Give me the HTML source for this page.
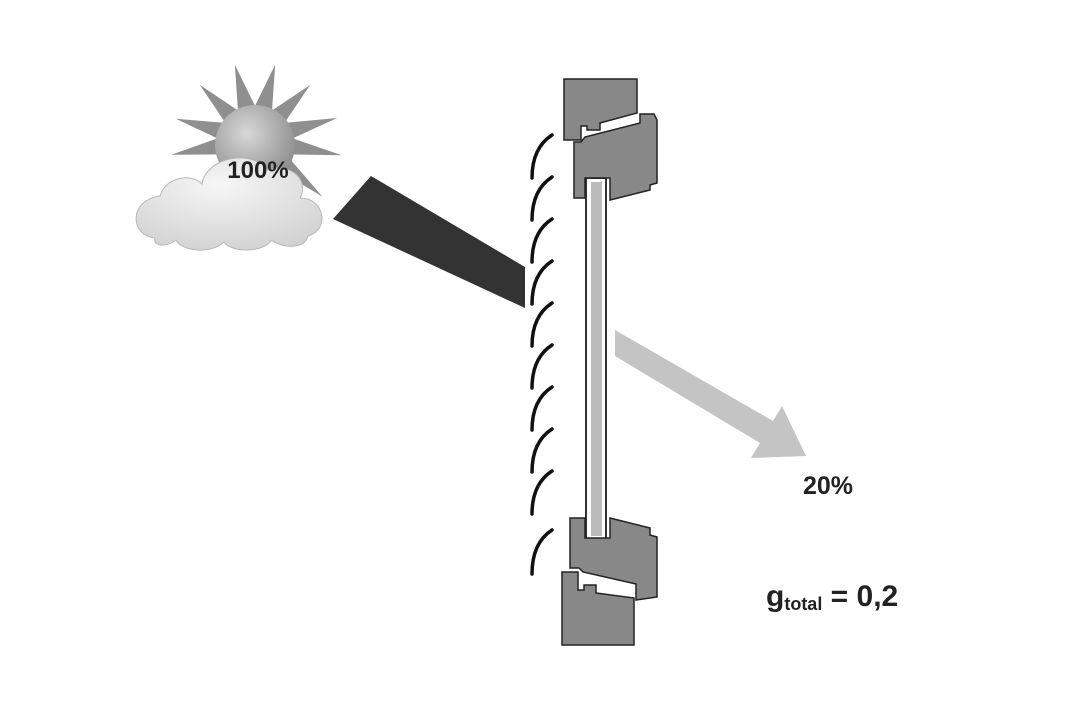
<!DOCTYPE html>
<html><head><style>body{margin:0;background:#fff}svg{display:block}</style></head><body>
<svg width="1080" height="720" viewBox="0 0 1080 720" xmlns="http://www.w3.org/2000/svg">
<defs>
<radialGradient id="sun" cx="0.4" cy="0.35" r="0.7"><stop offset="0" stop-color="#d8d8d8"/><stop offset="1" stop-color="#8a8a8a"/></radialGradient>
<radialGradient id="cl" cx="0.45" cy="0.3" r="0.8"><stop offset="0" stop-color="#f6f6f6"/><stop offset="1" stop-color="#cfcfcf"/></radialGradient>
</defs>
<rect width="1080" height="720" fill="#fff"/>
<!-- sun rays -->
<g transform="translate(255,140)" fill="#8f8f8f">
<polygon points="0,-78 9,-32 -9,-32" transform="rotate(-15)"/>
<polygon points="0,-78 9,-32 -9,-32" transform="rotate(15)"/>
<polygon points="0,-78 9,-32 -9,-32" transform="rotate(45)"/>
<polygon points="0,-85 9,-32 -9,-32" transform="rotate(75)"/>
<polygon points="0,-88 9,-32 -9,-32" transform="rotate(100)"/>
<polygon points="0,-88 9,-32 -9,-32" transform="rotate(130)"/>
<polygon points="0,-70 9,-32 -9,-32" transform="rotate(160)"/>
<polygon points="0,-78 9,-32 -9,-32" transform="rotate(-45)"/>
<polygon points="0,-82 9,-32 -9,-32" transform="rotate(-75)"/>
<polygon points="0,-85 9,-32 -9,-32" transform="rotate(-100)"/>
</g>
<circle cx="255" cy="145" r="40" fill="url(#sun)"/>
<!-- cloud -->
<g fill="url(#cl)" stroke="#b8b8b8" stroke-width="1">
<path d="M155,238 C130,236 128,200 160,196 C165,178 190,172 202,184 C206,158 250,148 268,170 C290,162 310,180 300,198 C325,198 330,230 308,236 C305,250 280,248 272,240 C262,254 230,252 224,242 C212,254 182,252 176,240 C166,248 152,246 155,238 Z"/>
</g>
<text x="258" y="178" font-family="Liberation Sans, sans-serif" font-weight="bold" font-size="24" fill="#222" text-anchor="middle">100%</text>
<!-- beam -->
<polygon points="371,176 525,267 525,308 333,219" fill="#333"/>
<!-- louvers -->
<g fill="none" stroke="#111" stroke-width="3.5" stroke-linecap="round">
<path d="M552,135 Q532,148 532,178"/>
<path d="M552,177 Q532,190 532,220"/>
<path d="M552,219 Q532,232 532,262"/>
<path d="M552,261 Q532,274 532,304"/>
<path d="M552,303 Q532,316 532,346"/>
<path d="M552,345 Q532,358 532,388"/>
<path d="M552,387 Q532,400 532,430"/>
<path d="M552,429 Q532,442 532,472"/>
<path d="M552,471 Q532,484 532,514"/>
<path d="M552,530 Q532,543 532,574"/>
</g>
<!-- glass -->
<rect x="586" y="178" width="20" height="362" fill="#fff" stroke="#333" stroke-width="2"/>
<rect x="591" y="182" width="11" height="354" fill="#bbb"/>
<!-- top frame -->
<g fill="#888" stroke="#222" stroke-width="1.5">
<path d="M564,79 L637,79 L637,113 L600,123 L600,130 L587,130 L587,126 L581,126 L581,140 L564,140 Z"/>
<path d="M574,142 L581,142 L585,137 L640,123 L640,114 L654,114 L657,120 L657,183 L650,185 L650,190 L610,200 L610,178 L585,178 L585,198 L574,198 Z"/>
</g>
<!-- bottom frame -->
<g fill="#888" stroke="#222" stroke-width="1.5">
<path d="M570,518 L585,518 L585,538 L610,538 L610,518 L650,528 L650,535 L657,537 L657,597 L636,600 L636,584 L583,572 L579,568 L570,568 Z"/>
<path d="M562,572 L578,572 L578,590 L584,590 L584,585 L596,585 L596,593 L634,598 L634,645 L562,645 Z"/>
</g>
<!-- arrow -->
<polygon points="615,330 615,356 760,443 751,458 806,456 782,406 773,421" fill="#c4c4c4"/>
<text x="828" y="494" font-family="Liberation Sans, sans-serif" font-weight="bold" font-size="25" fill="#222" text-anchor="middle">20%</text>
<text x="766" y="606" font-family="Liberation Sans, sans-serif" font-weight="bold" font-size="30" fill="#222">g<tspan font-size="18" dy="4">total</tspan><tspan dy="-4"> = 0,2</tspan></text>
</svg>
</body></html>
